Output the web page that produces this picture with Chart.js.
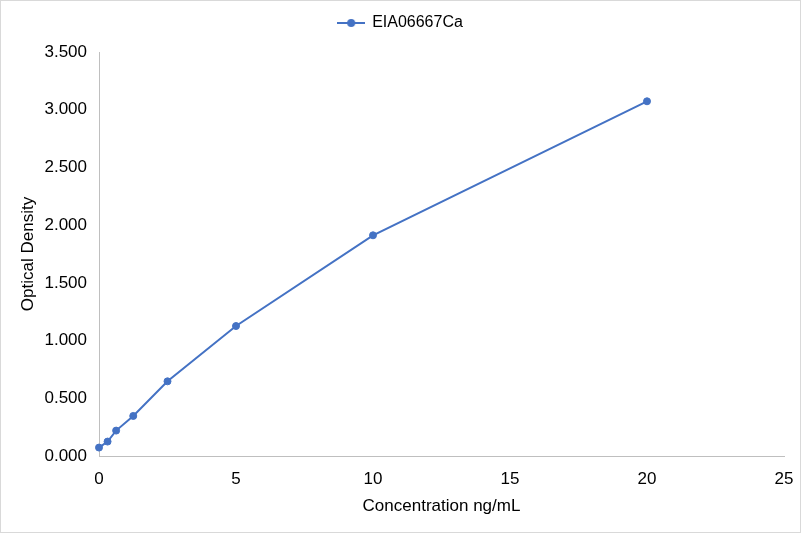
<!DOCTYPE html>
<html>
<head>
<meta charset="utf-8">
<script src="https://cdn.jsdelivr.net/npm/chart.js@4"></script>
<style>
  body { margin: 0; background: #fff; }
  #wrap {
    position: absolute; left: 0; top: 0;
    width: 801px; height: 533px;
    box-sizing: border-box;
    border: 1px solid #d9d9d9;
  }
</style>
</head>
<body>
<div id="wrap"><canvas id="chart"></canvas></div>
<script>
// standard curve data
const seriesName = 'EIA06667Ca';
const concentrations = [0, 0.3125, 0.625, 1.25, 2.5, 5, 10, 20];
const opticalDensity = [0.073, 0.125, 0.220, 0.347, 0.647, 1.126, 1.912, 3.073];
const xTicks = [0, 5, 10, 15, 20, 25];
const yTicks = [0, 0.5, 1, 1.5, 2, 2.5, 3, 3.5];

const blue = '#4472C4';
const fontFamily = '"Liberation Sans", Arial, sans-serif';

// legend marker: short line with a dot in the middle
const marker = document.createElement('canvas');
marker.width = 28;
marker.height = 10;
const mctx = marker.getContext('2d');
mctx.strokeStyle = blue;
mctx.lineWidth = 2;
mctx.beginPath();
mctx.moveTo(0, 5);
mctx.lineTo(28, 5);
mctx.stroke();
mctx.fillStyle = blue;
mctx.beginPath();
mctx.arc(14, 5, 4, 0, Math.PI * 2);
mctx.fill();

const points = concentrations.map((x, i) => ({ x, y: opticalDensity[i] }));

new Chart(document.getElementById('chart'), {
  type: 'line',
  data: {
    datasets: [{
      label: seriesName,
      data: points,
      borderColor: blue,
      backgroundColor: blue,
      borderWidth: 2,
      pointRadius: 3.5,
      pointBorderWidth: 1,
      tension: 0,
      clip: false // keep the point at x = 0 whole
    }]
  },
  options: {
    responsive: true,
    maintainAspectRatio: false,
    animation: false,
    layout: { padding: 0 },
    plugins: {
      legend: {
        position: 'top',
        labels: {
          usePointStyle: true,
          pointStyle: marker,
          pointStyleWidth: 26,
          padding: 14,
          color: '#000',
          font: { family: fontFamily, size: 16 }
        }
      },
      // empty title used only as a spacer between legend and plot
      title: {
        display: true,
        text: '',
        weight: 500,
        padding: 0,
        font: { size: 11, lineHeight: 1 }
      },
      tooltip: { enabled: false }
    },
    scales: {
      x: {
        type: 'linear',
        min: 0,
        max: 25,
        afterBuildTicks: s => { s.ticks = xTicks.map(v => ({ value: v })); },
        afterFit: s => { s.height = 76; s.paddingRight = 16; },
        grid: { display: false, drawTicks: false },
        border: { display: true, color: '#bfbfbf', width: 1 },
        ticks: {
          padding: 13,
          color: '#000',
          font: { family: fontFamily, size: 17 }
        },
        title: {
          display: true,
          text: 'Concentration ng/mL',
          color: '#000',
          padding: { top: 0, bottom: 15 },
          font: { family: fontFamily, size: 17 }
        }
      },
      y: {
        min: 0,
        max: 3.5,
        afterBuildTicks: s => { s.ticks = yTicks.map(v => ({ value: v })); },
        afterFit: s => { s.width = 98; },
        grid: { display: false, drawTicks: false },
        border: { display: true, color: '#bfbfbf', width: 1 },
        ticks: {
          padding: 12,
          color: '#000',
          font: { family: fontFamily, size: 17 },
          callback: v => v.toFixed(3)
        },
        title: {
          display: true,
          text: 'Optical Density',
          color: '#000',
          padding: { top: 17, bottom: 0 },
          font: { family: fontFamily, size: 17 }
        }
      }
    }
  }
});
</script>
</body>
</html>
